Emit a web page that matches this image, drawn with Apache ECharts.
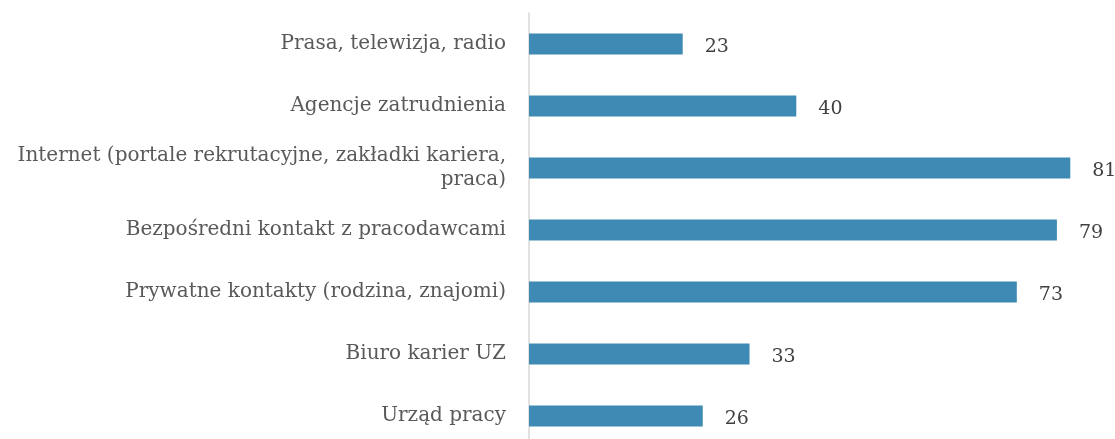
<!DOCTYPE html>
<html>
<head>
<meta charset="utf-8">
<script src="https://cdn.jsdelivr.net/npm/echarts@6/dist/echarts.min.js"></script>
<style>
    html, body { margin: 0; padding: 0; background: #fff; }
    #chart { width: 1115px; height: 439px; }
</style>
</head>
<body>
<div id="chart"></div>
<script>
// kategorie (od góry)
const categories = [
    'Prasa, telewizja, radio',
    'Agencje zatrudnienia',
    'Internet (portale rekrutacyjne, zakładki kariera,\npraca)',
    'Bezpośredni kontakt z pracodawcami',
    'Prywatne kontakty (rodzina, znajomi)',
    'Biuro karier UZ',
    'Urząd pracy'
]
const values = [23, 40, 81, 79, 73, 33, 26]

const serif = '"DejaVu Serif", "Liberation Serif", serif'

let myChart = echarts.init(document.getElementById('chart'))
myChart.setOption({
    animation: false,
    grid: {
        left: 529,
        top: 13,
        width: 568,
        height: 434,
        outerBoundsMode: 'none',
        containLabel: false
    },
    xAxis: {
        type: 'value',
        min: 0,
        max: 85,
        show: false
    },
    yAxis: {
        type: 'category',
        inverse: true,
        data: categories,
        axisTick: { show: false },
        axisLine: {
            lineStyle: { color: '#d9d9d9', width: 1.5 }
        },
        axisLabel: {
            margin: 23,
            color: '#595959',
            fontFamily: serif,
            fontSize: 20,
            lineHeight: 24,
            align: 'right'
        }
    },
    series: [
        {
            type: 'bar',
            data: values,
            barWidth: 21,
            itemStyle: { color: '#3f89b5' },
            label: {
                show: true,
                position: 'right',
                distance: 22,
                offset: [0, 3],
                color: '#404040',
                fontFamily: serif,
                fontSize: 19
            }
        }
    ]
})
window.onresize = function () {
    myChart.resize()
}
</script>
</body>
</html>
